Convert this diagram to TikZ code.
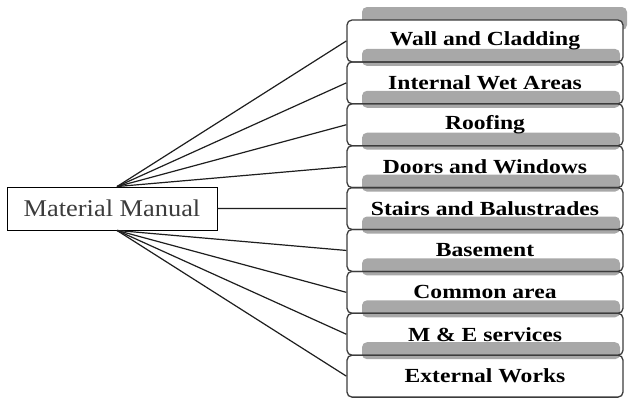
\documentclass[tikz,border=0pt]{standalone}
\usepackage{fontspec}
\setmainfont{Liberation Serif}
\newfontfamily\boxfont[FakeStretch=1.18]{Liberation Serif}
\newfontfamily\rootfont[FakeStretch=1.1]{Liberation Serif}
\usetikzlibrary{calc}
\definecolor{boxborder}{RGB}{60,60,60}
\definecolor{stripgray}{RGB}{168,168,168}
\definecolor{linecol}{RGB}{30,30,30}
\definecolor{textgray}{RGB}{60,60,60}
\begin{document}
\begin{tikzpicture}[x=1pt,y=-1pt,
 item/.style={draw=boxborder, line width=1.3pt, rounded corners=5pt,
   minimum width=276pt, minimum height=41.9pt, inner sep=0pt,
   font=\boxfont\fontsize{20}{24}\selectfont\bfseries},
 root/.style={draw=black, line width=0.9pt, minimum width=210pt,
   minimum height=43pt, inner sep=0pt,
   font=\rootfont\fontsize{24}{28}\selectfont, text=textgray},
 link/.style={draw=linecol, line width=1.2pt},
 card/.style={fill=stripgray, rounded corners=5pt},
 boxfill/.style={fill=white, rounded corners=5pt}]
\useasboundingbox (0,0) rectangle (629,400);
\fill[white] (0,0) rectangle (629,400);

% top gray back card
\fill[card] (362,7) rectangle (627,30);
% white box fills
\foreach \i in {1,...,9}{
  \pgfmathsetmacro{\tp}{20+41.9*(\i-1)}
  \fill[boxfill] (347,\tp) rectangle (623,\tp+41.9);
}
% gray strips at the bottom of each box (back cards of the next box)
\foreach \i in {2,...,9}{
  \pgfmathsetmacro{\tp}{20+41.9*(\i-1)}
  \fill[card] (362,\tp-13) rectangle (620,\tp+4);
}

\node[root] (root) at (112,208.5) {Material Manual};

\foreach \i/\t in {1/Wall and Cladding, 2/Internal Wet Areas, 3/Roofing,
  4/Doors and Windows, 5/Stairs and Balustrades, 6/Basement,
  7/Common area, 8/M \& E services, 9/External Works}{
  \node[item] (b\i) at (485, {20+41.9*(\i-1)+20.95}) {\t};
}

\coordinate (topfan) at ($(root.north)+(5,0)$);
\coordinate (botfan) at ($(root.south)+(5,0)$);
\foreach \i in {1,2,3,4}{
  \draw[link] (topfan) -- (b\i.west);
}
\draw[link] (root.east) -- (b5.west);
\foreach \i in {6,7,8,9}{
  \draw[link] (botfan) -- (b\i.west);
}
\end{tikzpicture}
\end{document}
